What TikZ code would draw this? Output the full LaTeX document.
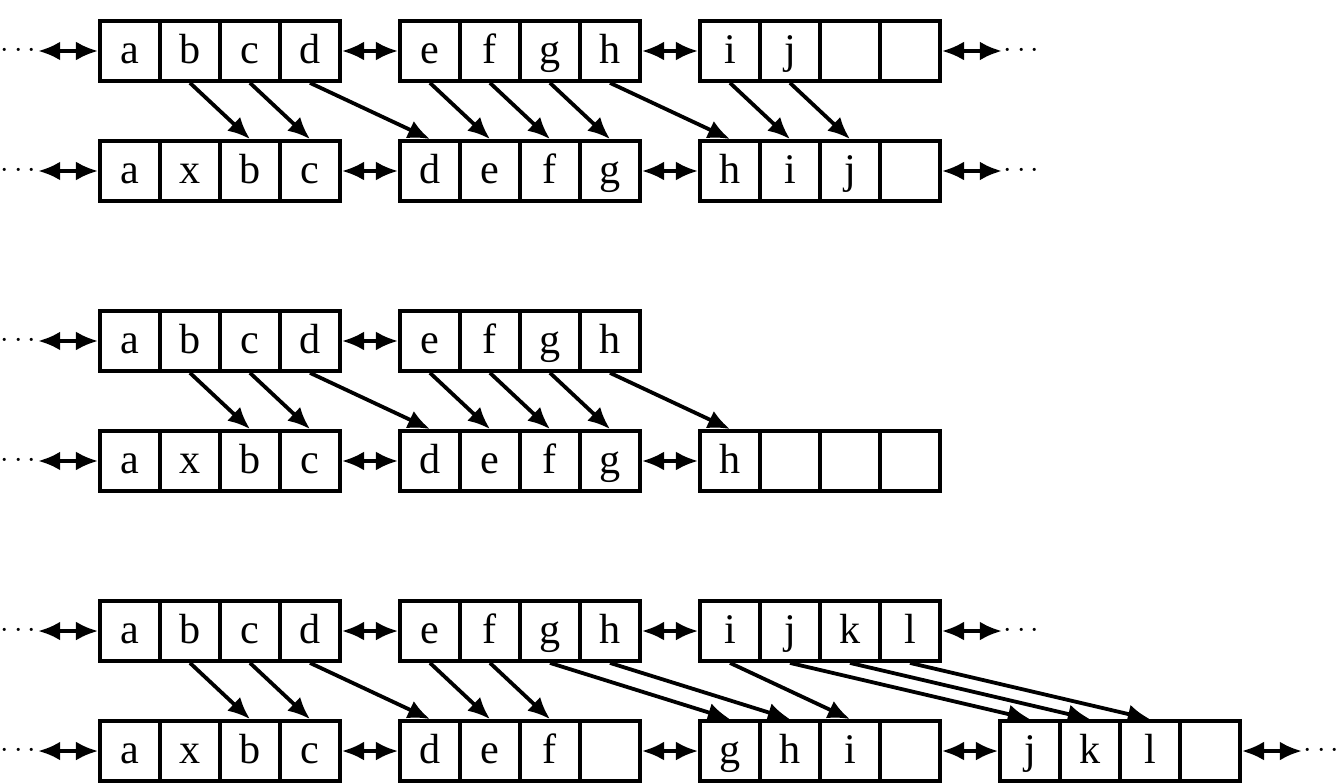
\documentclass[tikz,border=0pt]{standalone}
\usepackage{fontspec}
\setmainfont{Liberation Serif}
\usetikzlibrary{arrows.meta,positioning}
\begin{document}
\begin{tikzpicture}[
  line width=1.8pt,
  cell/.style={draw, minimum width=1cm, minimum height=1cm, inner sep=0pt,
    text height=14pt, text depth=2.6pt, font=\fontsize{20}{24}\selectfont},
  dots/.style={inner sep=0pt, font=\fontsize{14}{16}\selectfont},
  link/.style={{Latex[length=10.5pt,width=9pt]}-{Latex[length=10.5pt,width=9pt]}},
  moved/.style={-{Latex[length=10.5pt,width=9pt]}},
]
\useasboundingbox (0,0) rectangle (22.383,-13.05);

% first group: insert x, all blocks full
\foreach \t [count=\i from 0] in {a,b,c,d,e,f,g,h,i,j,{},{}}
  \node[cell] (old1-\i) at ({2.1667+\i+int(\i/4)},-0.85) {\t};
\foreach \t [count=\i from 0] in {a,x,b,c,d,e,f,g,h,i,j,{}}
  \node[cell] (new1-\i) at ({2.1667+\i+int(\i/4)},-2.85) {\t};
\node[dots, left=1cm of old1-0] (old1-l) {$\cdots$};
\node[dots, right=1cm of old1-11] (old1-r) {$\cdots$};
\node[dots, left=1cm of new1-0] (new1-l) {$\cdots$};
\node[dots, right=1cm of new1-11] (new1-r) {$\cdots$};
\draw[link] (old1-l) -- (old1-0);
\draw[link] (old1-3) -- (old1-4);
\draw[link] (old1-7) -- (old1-8);
\draw[link] (old1-11) -- (old1-r);
\draw[link] (new1-l) -- (new1-0);
\draw[link] (new1-3) -- (new1-4);
\draw[link] (new1-7) -- (new1-8);
\draw[link] (new1-11) -- (new1-r);
\foreach \i/\j in {1/2,2/3,3/4,4/5,5/6,6/7,7/8,8/9,9/10}
  \draw[moved] (old1-\i.south) -- (new1-\j.north);

% second group: last block of the list
\foreach \t [count=\i from 0] in {a,b,c,d,e,f,g,h}
  \node[cell] (old2-\i) at ({2.1667+\i+int(\i/4)},-5.683) {\t};
\foreach \t [count=\i from 0] in {a,x,b,c,d,e,f,g,h,{},{},{}}
  \node[cell] (new2-\i) at ({2.1667+\i+int(\i/4)},-7.683) {\t};
\node[dots, left=1cm of old2-0] (old2-l) {$\cdots$};
\node[dots, left=1cm of new2-0] (new2-l) {$\cdots$};
\draw[link] (old2-l) -- (old2-0);
\draw[link] (old2-3) -- (old2-4);
\draw[link] (new2-l) -- (new2-0);
\draw[link] (new2-3) -- (new2-4);
\draw[link] (new2-7) -- (new2-8);
\foreach \i/\j in {1/2,2/3,3/4,4/5,5/6,6/7,7/8}
  \draw[moved] (old2-\i.south) -- (new2-\j.north);

% third group: blocks split, one free slot each
\foreach \t [count=\i from 0] in {a,b,c,d,e,f,g,h,i,j,k,l}
  \node[cell] (old3-\i) at ({2.1667+\i+int(\i/4)},-10.517) {\t};
\foreach \t [count=\i from 0] in {a,x,b,c,d,e,f,{},g,h,i,{},j,k,l,{}}
  \node[cell] (new3-\i) at ({2.1667+\i+int(\i/4)},-12.517) {\t};
\node[dots, left=1cm of old3-0] (old3-l) {$\cdots$};
\node[dots, right=1cm of old3-11] (old3-r) {$\cdots$};
\node[dots, left=1cm of new3-0] (new3-l) {$\cdots$};
\node[dots, right=1cm of new3-15] (new3-r) {$\cdots$};
\draw[link] (old3-l) -- (old3-0);
\draw[link] (old3-3) -- (old3-4);
\draw[link] (old3-7) -- (old3-8);
\draw[link] (old3-11) -- (old3-r);
\draw[link] (new3-l) -- (new3-0);
\draw[link] (new3-3) -- (new3-4);
\draw[link] (new3-7) -- (new3-8);
\draw[link] (new3-11) -- (new3-12);
\draw[link] (new3-15) -- (new3-r);
\foreach \i/\j in {1/2,2/3,3/4,4/5,5/6,6/8,7/9,8/10,9/12,10/13,11/14}
  \draw[moved] (old3-\i.south) -- (new3-\j.north);
\end{tikzpicture}
\end{document}
